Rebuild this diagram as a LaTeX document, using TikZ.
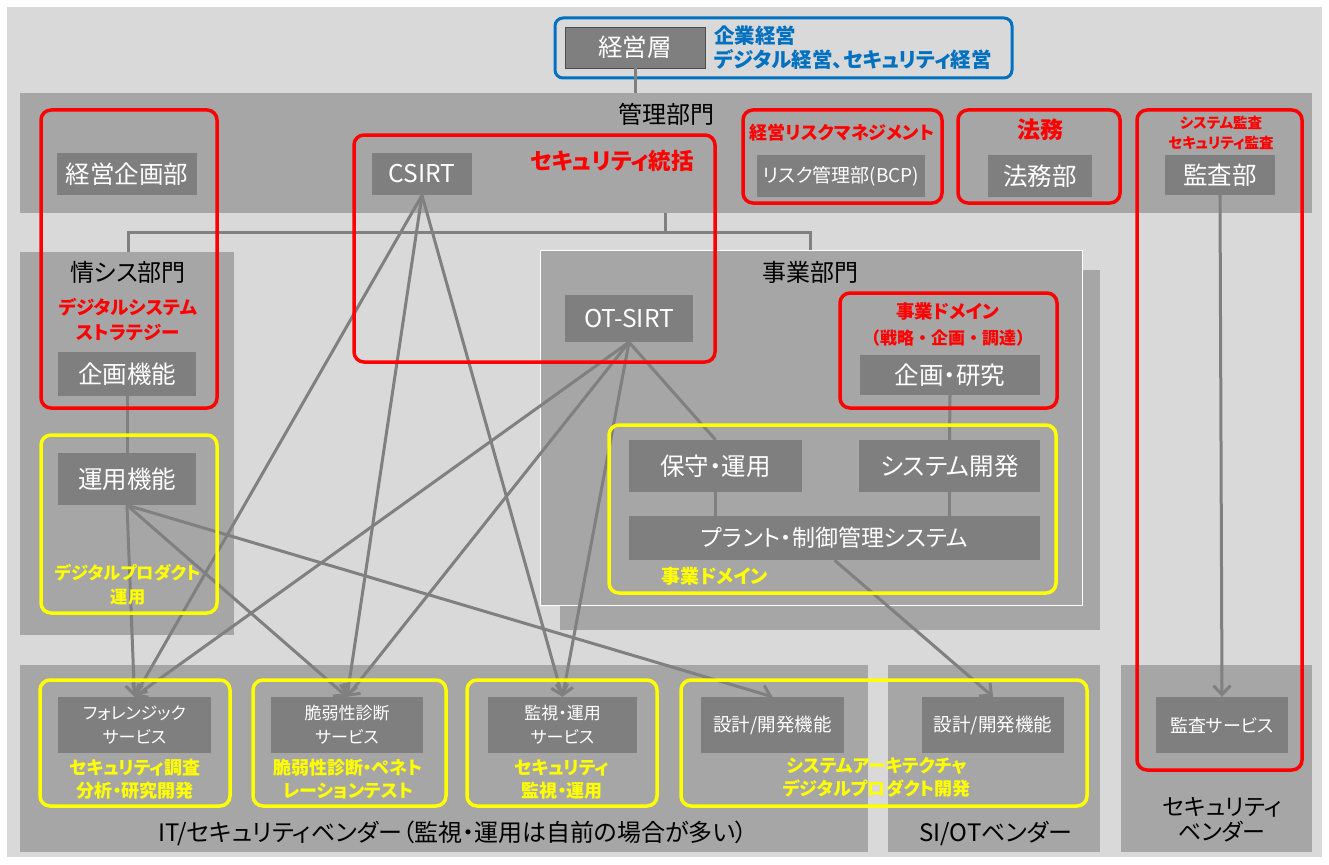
\documentclass[tikz,border=0pt]{standalone}
\usepackage{fontspec}
\setmainfont{Noto Sans CJK JP}[RawFeature=+palt]
\newfontfamily\fw{Noto Sans CJK JP}
\usetikzlibrary{arrows.meta}
\definecolor{bgl}{HTML}{D9D9D9}
\definecolor{panelg}{HTML}{A6A6A6}
\definecolor{darkg}{HTML}{7F7F7F}
\definecolor{lineg}{HTML}{808080}
\definecolor{yel}{HTML}{FFFF00}
\definecolor{redc}{HTML}{FF0000}
\definecolor{bluec}{HTML}{0070C0}
\newcommand\fsz[2]{\fontsize{#1pt}{#2pt}\selectfont}
\tikzset{
  panel/.style={fill=panelg, draw=none, inner sep=0pt},
  dbox/.style={fill=darkg, text=white, inner sep=0pt, font=\fsz{24.5}{28}, align=center},
  sbox/.style={dbox, font=\fsz{17}{24}},
  redbox/.style={draw=redc, line width=3.5pt, rounded corners=10pt, inner sep=0pt},
  ylbox/.style={draw=yel, line width=3.5pt, rounded corners=10pt, inner sep=0pt},
  lbl/.style={text=black, inner sep=0pt, font=\fsz{24}{28}, align=center},
  redt/.style={text=redc, inner sep=0pt, font=\bfseries\fsz{18.5}{25}, align=center},
  ylt/.style={text=yel, inner sep=0pt, font=\bfseries\fsz{18}{23}, align=center},
  conn/.style={draw=lineg, line width=3pt},
  arr/.style={conn, -{Straight Barb[length=9pt,width=17pt]}}
}
\begin{document}
\begin{tikzpicture}[x=1pt,y=-1pt]
\useasboundingbox (0,0) rectangle (1329,864);
\fill[white] (0,0) rectangle (1329,864);
\fill[bgl] (7,7) rectangle (1322,857);

% panels
\node[panel, minimum width=1292pt, minimum height=120pt] (kanri) at (666,153) {};
\node[panel, minimum width=214pt, minimum height=383pt] (joho) at (127,443.5) {};
\node[panel, minimum width=540pt, minimum height=360pt] (jigyoback) at (830,450) {};
\node[panel, draw=white, line width=1pt, minimum width=542pt, minimum height=355pt] (jigyo) at (811,427.5) {};
\node[panel, minimum width=848pt, minimum height=187pt] (itv) at (444,758.5) {};
\node[panel, minimum width=212pt, minimum height=187pt] (siv) at (994,758.5) {};
\node[panel, minimum width=191pt, minimum height=187pt] (secv) at (1216.5,758.5) {};

% top management
\node[dbox, draw=black!70, line width=0.8pt, minimum width=140pt, minimum height=41pt, font=\fsz{24.5}{28}] (keiei) at (635,47.5) {経営層};
\node[draw=bluec, line width=3pt, rounded corners=8pt, minimum width=457pt, minimum height=60pt, inner sep=0pt] (blue) at (783.5,48) {};
\node[anchor=west, text=bluec, inner sep=0pt, font=\bfseries\fsz{20.5}{24}] (bt1) at (714,36) {企業経営};
\node[anchor=west, text=bluec, inner sep=0pt, font=\bfseries\fsz{20.5}{24}] (bt2) at (714,60) {デジタル経営、セキュリティ経営};
\draw[conn] (keiei.south) -- (keiei.south |- kanri.north);

\node[lbl] (kanrilbl) at (666,114) {管理部門};

% tree
\coordinate (tA) at (665,213);
\coordinate (tB) at (665,232);
\coordinate (tL) at (128,232);
\coordinate (tR) at (810,232);
\draw[conn] (tA) -- (tB);
\draw[conn] (joho.north -| tL) -- (tL) -- (tR) -- (tR |- jigyo.north);

% dark boxes
\node[dbox, minimum width=140pt, minimum height=42pt] (keikaku) at (127,174) {経営企画部};
\node[dbox, minimum width=100pt, minimum height=42pt] (csirt) at (422,174) {CSIRT};
\node[dbox, minimum width=168pt, minimum height=42pt, font=\fsz{19}{22}] (risk) at (841,176) {リスク管理部(BCP)};
\node[dbox, minimum width=104pt, minimum height=42pt] (houmubu) at (1040,176) {法務部};
\node[dbox, minimum width=110pt, minimum height=40pt] (kansabu) at (1220,175) {監査部};

\node[dbox, minimum width=138pt, minimum height=44pt] (kikakukino) at (127,374) {企画機能};
\node[dbox, minimum width=138pt, minimum height=52pt] (unyo) at (127,479) {運用機能};

\node[dbox, minimum width=128pt, minimum height=47pt] (otsirt) at (629,318.5) {OT-SIRT};
\node[dbox, minimum width=180pt, minimum height=40pt] (kenkyu) at (950,375) {企画・研究};
\node[dbox, minimum width=173pt, minimum height=52pt] (hoshu) at (715.5,466) {保守・運用};
\node[dbox, minimum width=181pt, minimum height=52pt] (sysdev) at (949.5,466) {システム開発};
\node[dbox, minimum width=411pt, minimum height=44pt, font=\fsz{23}{28}] (plant) at (834.5,538) {プラント・制御管理システム};

\node[sbox, minimum width=153pt, minimum height=56pt] (foren) at (134.5,725) {フォレンジック\\サービス};
\node[sbox, minimum width=152pt, minimum height=56pt] (vuln) at (347,725) {脆弱性診断\\サービス};
\node[sbox, minimum width=149pt, minimum height=56pt] (mon) at (562.5,725) {監視・運用\\サービス};
\node[sbox, minimum width=143pt, minimum height=56pt, font=\fsz{18.5}{24}] (sekkei1) at (772.5,725) {設計/開発機能};
\node[sbox, minimum width=142pt, minimum height=56pt, font=\fsz{18.5}{24}] (sekkei2) at (993,725) {設計/開発機能};
\node[sbox, minimum width=132pt, minimum height=56pt, font=\fsz{18}{24}] (kansasv) at (1222,725) {監査サービス};

% plain connectors
\draw[conn] (kikakukino.south) -- (unyo.north);
\draw[conn] (kenkyu.south) -- (sysdev.north);
\draw[conn] (hoshu.south) -- (hoshu.south |- plant.north);
\draw[conn] (sysdev.south) -- (sysdev.south |- plant.north);
\draw[conn] (otsirt.south) -- (hoshu.north);

% arrows
\draw[arr] (unyo.south) -- (foren.north);
\draw[arr] (unyo.south) -- (vuln.north);
\draw[arr] (unyo.south) -- (sekkei1.north);
\draw[arr] (csirt.south) -- (foren.north);
\draw[arr] (csirt.south) -- (vuln.north);
\draw[arr] (csirt.south) -- (mon.north);
\draw[arr] (otsirt.south) -- (foren.north);
\draw[arr] (otsirt.south) -- (vuln.north);
\draw[arr] (otsirt.south) -- (mon.north);
\draw[arr] (plant.south) -- (sekkei2.north);
\draw[arr] (kansabu.south) -- (kansasv.north);

% red outline boxes
\node[redbox, minimum width=176pt, minimum height=298pt] (r1) at (129,259) {};
\node[redbox, minimum width=361pt, minimum height=227pt] (rcsirt) at (534.5,248.5) {};
\node[redbox, minimum width=199pt, minimum height=93pt] (rrisk) at (842.5,156.5) {};
\node[redbox, minimum width=162pt, minimum height=93pt] (rhoumu) at (1039,156.5) {};
\node[redbox, minimum width=165pt, minimum height=660pt] (rkansa) at (1219.5,440) {};
\node[redbox, minimum width=217pt, minimum height=115pt] (rjigyo) at (948.5,350.5) {};

% yellow outline boxes
\node[ylbox, minimum width=176pt, minimum height=178pt] (y0) at (129,524) {};
\node[ylbox, minimum width=447pt, minimum height=168pt] (yj) at (832.5,509) {};
\node[ylbox, minimum width=190pt, minimum height=126pt] (y1) at (135,743) {};
\node[ylbox, minimum width=193pt, minimum height=126pt] (y2) at (349.5,743) {};
\node[ylbox, minimum width=190pt, minimum height=126pt] (y3) at (562,743) {};
\node[ylbox, minimum width=406pt, minimum height=126pt] (y4) at (884,743) {};

% red texts
\node[redt, font=\bfseries\fsz{22.5}{25}] (t1) at (612,161) {セキュリティ統括};
\node[redt, font=\bfseries\fsz{18}{22}] (t2) at (842,133) {経営リスクマネジメント};
\node[redt, font=\bfseries\fsz{23}{25}] (t3) at (1040,130) {法務};
\node[redt, font=\bfseries\fsz{14.5}{20}] (t4) at (1221,133) {システム監査\\セキュリティ監査};
\node[redt] (t5) at (128,319.5) {デジタルシステム\\ストラテジー};
\node[redt] (t6) at (948,311) {事業ドメイン};
\node[redt, font=\fw\bfseries\fsz{17}{22}] (t7) at (948,338) {（戦略・企画・調達）};

% black labels
\node[lbl] (l1) at (128,272) {情シス部門};
\node[lbl] (l2) at (810,272) {事業部門};
\node[lbl] (l3) at (453,833) {IT/セキュリティベンダー（監視・運用は自前の場合が多い）};
\node[lbl] (l4) at (996,833) {SI/OTベンダー};
\node[lbl, font=\fsz{23}{25}] (l5) at (1222,820) {セキュリティ\\ベンダー};

% yellow texts
\node[ylt, font=\bfseries\fsz{17.3}{24}] (u1) at (128,585) {デジタルプロダクト\\運用};
\node[ylt, font=\bfseries\fsz{19}{23}] (u2) at (715,576) {事業ドメイン};
\node[ylt] (u3) at (135,779) {セキュリティ調査\\分析・研究開発};
\node[ylt] (u4) at (348,779) {脆弱性診断・ペネト\\レーションテスト};
\node[ylt] (u5) at (562,779) {セキュリティ\\監視・運用};
\node[ylt] (u6) at (877,777.5) {システムアーキテクチャ\\デジタルプロダクト開発};
\end{tikzpicture}
\end{document}
